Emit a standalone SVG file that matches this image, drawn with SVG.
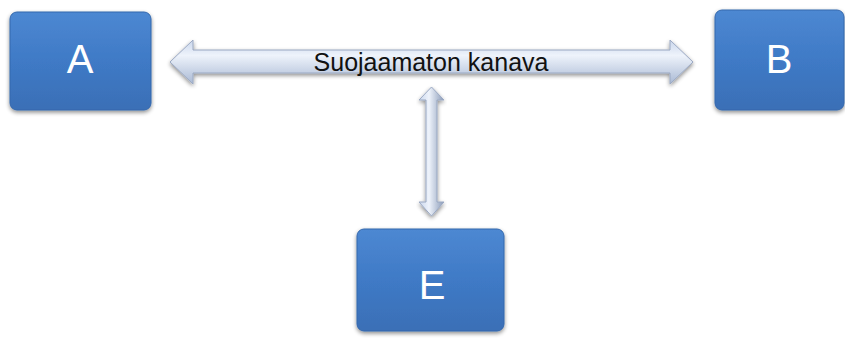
<svg xmlns="http://www.w3.org/2000/svg" width="845" height="342" viewBox="0 0 845 342">
<defs>
<linearGradient id="boxg" x1="0" y1="0" x2="0" y2="1">
<stop offset="0" stop-color="#4d88d2"/>
<stop offset="0.5" stop-color="#3f7ac6"/>
<stop offset="1" stop-color="#3a6fb6"/>
</linearGradient>
<linearGradient id="arrh" x1="0" y1="0" x2="0" y2="1">
<stop offset="0" stop-color="#c9d6ec"/>
<stop offset="0.35" stop-color="#eef3fb"/>
<stop offset="1" stop-color="#a9b9d4"/>
</linearGradient>
<linearGradient id="arrv" x1="0" y1="0" x2="1" y2="0">
<stop offset="0" stop-color="#c9d6ec"/>
<stop offset="0.4" stop-color="#eef3fb"/>
<stop offset="1" stop-color="#8a9bb8"/>
</linearGradient>
<filter id="sh" x="-10%" y="-10%" width="120%" height="130%">
<feGaussianBlur in="SourceAlpha" stdDeviation="2"/>
<feOffset dx="0" dy="2" result="b"/>
<feComponentTransfer><feFuncA type="linear" slope="0.45"/></feComponentTransfer>
<feMerge><feMergeNode/><feMergeNode in="SourceGraphic"/></feMerge>
</filter>
</defs>
<style>
.box{fill:url(#boxg);stroke:#3468ad;stroke-width:1;filter:url(#sh)}
.lbl{font-family:"Liberation Sans",Arial,sans-serif;font-size:40px;fill:#ffffff;text-anchor:middle}
.arr{stroke:#9aa8c2;stroke-width:1;filter:url(#sh)}
.ctext{font-family:"Liberation Sans",Arial,sans-serif;font-size:25px;fill:#111111;text-anchor:middle}
</style>
<g id="connectors">
<path class="arr" fill="url(#arrh)" d="M170,62 L193,40 L193,50 L670,50 L670,40 L693,62 L670,84 L670,73 L193,73 L193,84 Z"/>
<path class="arr" fill="url(#arrv)" d="M431.5,87 L444,100 L437,100 L437,202 L444,202 L431.5,216 L419,202 L426,202 L426,100 L419,100 Z"/>
<text class="ctext" x="431" y="71">Suojaamaton kanava</text>
</g>
<g id="node-A">
<rect class="box" x="10" y="12" width="141" height="98" rx="7"/>
<text class="lbl" x="80" y="73">A</text>
</g>
<g id="node-B">
<rect class="box" x="715" y="10" width="129" height="100" rx="7"/>
<text class="lbl" x="779" y="73">B</text>
</g>
<g id="node-E">
<rect class="box" x="357" y="229" width="147" height="102" rx="7"/>
<text class="lbl" x="432" y="299">E</text>
</g>
</svg>
